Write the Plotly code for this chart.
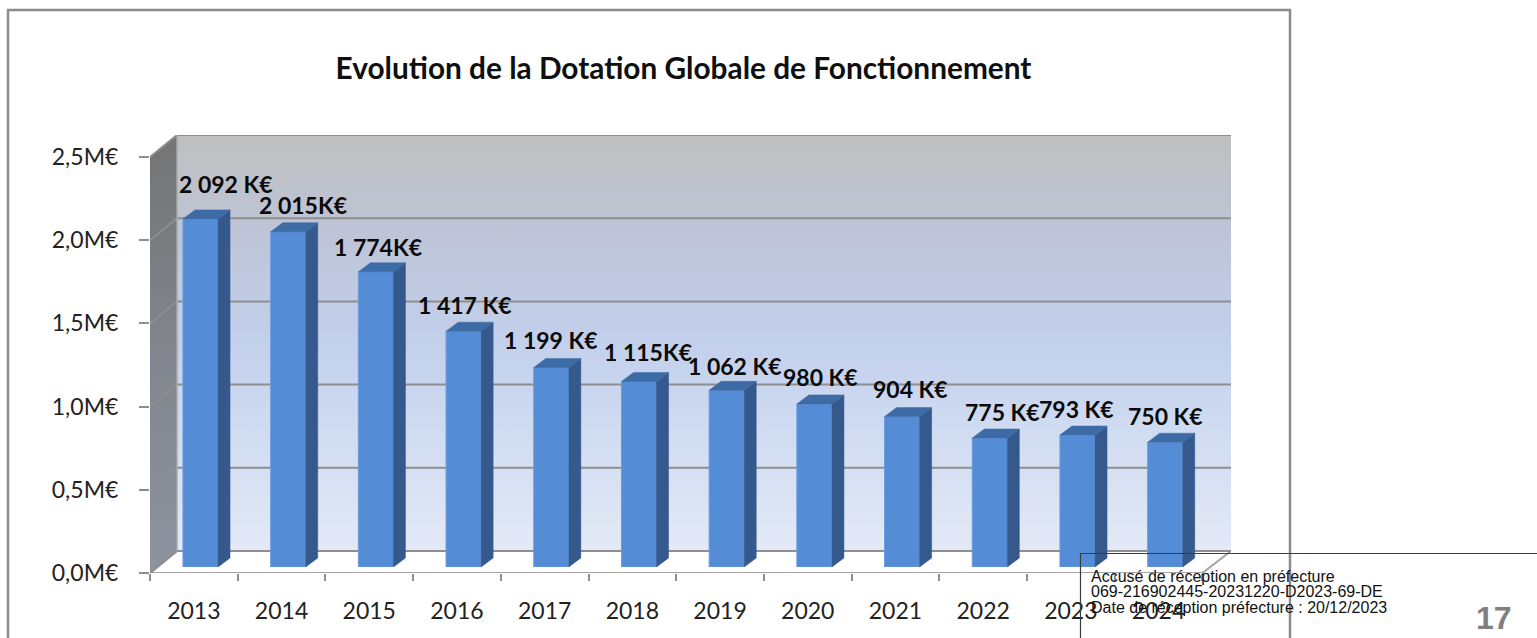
import plotly.graph_objects as go

W, H = 1537, 638

# ---- data ----
YEARS = [2013, 2014, 2015, 2016, 2017, 2018, 2019, 2020, 2021, 2022, 2023, 2024]
VALUES_KE = [2092, 2015, 1774, 1417, 1199, 1115, 1062, 980, 904, 775, 793, 750]
LABELS = ["2 092 K€", "2 015K€", "1 774K€", "1 417 K€", "1 199 K€", "1 115K€",
          "1 062 K€", "980 K€", "904 K€", "775 K€", "793 K€", "750 K€"]
Y_STEP = 0.5
Y_TICKS = [0.0, 0.5, 1.0, 1.5, 2.0, 2.5]
TITLE = "Evolution de la Dotation Globale de Fonctionnement"
STAMP = ["Accusé de réception en préfecture",
         "069-216902445-20231220-D2023-69-DE",
         "Date de réception préfecture : 20/12/2023"]
PAGE = "17"

# ---- label nudges in px (hand placed in the original) ----
LABEL_DX = [25.5, 15, 2, 1.4, 0, 9, 8, 6, 8, 13, -1.5, 0]
LABEL_DY = [35, 27, 25, 26, 27.5, 29.5, 24, 27, 27.6, 26, 26, 26]

# ---- scale ----
X_UNIT = 87.7     # px per year
Y_UNIT = 166.4    # px per M€
BAR_W = 0.4
DEPTH_X, DEPTH_Y = 12 / X_UNIT, 9 / Y_UNIT          # bar depth
WALL_X, WALL_Y = 27 / X_UNIT, 22 / Y_UNIT           # chart depth
FONT = "Lato, Carlito, sans-serif"
GRID = "#8e8e8e"

vals = [v / 1000 for v in VALUES_KE]
x0 = YEARS[0] - 0.5
x1 = YEARS[-1] + 0.5
xw = x0 + (1231 - 150) / X_UNIT
yw = 2.5 + WALL_Y

fig = go.Figure()

# floor
fig.add_trace(go.Scatter(
    x=[x0, x1, xw, x0 + WALL_X, x0], y=[0, 0, WALL_Y, WALL_Y, 0],
    mode="lines", fill="toself", fillcolor="#ffffff",
    line=dict(color="#a3a3a3", width=2), hoverinfo="skip"))
# back wall
fig.add_trace(go.Scatter(
    x=[x0 + WALL_X, xw, xw, x0 + WALL_X, x0 + WALL_X], y=[WALL_Y, WALL_Y, yw, yw, WALL_Y],
    mode="lines", fill="toself", line=dict(color="rgba(0,0,0,0)", width=0),
    fillgradient=dict(type="vertical", start=WALL_Y, stop=yw, colorscale=[
        [0, "#e3e9f6"], [0.3, "#cfdbf1"], [0.5, "#c3d0ec"], [0.75, "#bec5d8"], [1, "#bfbfbf"]]),
    hoverinfo="skip"))
# side wall
fig.add_trace(go.Scatter(
    x=[x0, x0 + WALL_X, x0 + WALL_X, x0, x0], y=[0, WALL_Y, yw, 2.5, 0],
    mode="lines", fill="toself", line=dict(color="rgba(0,0,0,0)", width=0),
    fillgradient=dict(type="vertical", start=0, stop=yw, colorscale=[
        [0, "#8d939f"], [0.5, "#82858d"], [1, "#747474"]]),
    hoverinfo="skip"))
# gridlines on both walls
gx, gy = [], []
for t in Y_TICKS:
    gx += [x0, x0 + WALL_X, xw, None]
    gy += [t, t + WALL_Y, t + WALL_Y, None]
fig.add_trace(go.Scatter(x=gx, y=gy, mode="lines", line=dict(color=GRID, width=2), hoverinfo="skip"))
# wall edges (left of back wall)
fig.add_trace(go.Scatter(x=[x0 + WALL_X, x0 + WALL_X], y=[WALL_Y, yw], mode="lines",
                         line=dict(color="#a9a9a9", width=1.5), hoverinfo="skip"))

# bars (separate subplot drawn over the walls)
fig.add_trace(go.Bar(x=YEARS, y=vals, width=BAR_W, xaxis="x2", yaxis="y2",
                     marker=dict(color="#558cd6", line=dict(color="#6a9be0", width=1)),
                     hoverinfo="skip"))
sx, sy, tx, ty = [], [], [], []
for yr, v in zip(YEARS, vals):
    r = yr + BAR_W / 2
    l = yr - BAR_W / 2
    sx += [r, r + DEPTH_X, r + DEPTH_X, r, r, None]
    sy += [0, DEPTH_Y, v + DEPTH_Y, v, 0, None]
    tx += [l, r, r + DEPTH_X, l + DEPTH_X, l, None]
    ty += [v, v, v + DEPTH_Y, v + DEPTH_Y, v, None]
fig.add_trace(go.Scatter(x=sx, y=sy, xaxis="x2", yaxis="y2", mode="lines", fill="toself",
                         fillcolor="#35598c", line=dict(color="#35598c", width=0.5), hoverinfo="skip"))
fig.add_trace(go.Scatter(x=tx, y=ty, xaxis="x2", yaxis="y2", mode="lines", fill="toself",
                         fillcolor="#3d6ba6", line=dict(color="#3d6ba6", width=0.5), hoverinfo="skip"))

annotations = [
    dict(x=yr, y=v, xref="x2", yref="y2", text=f"<b>{lab}</b>", showarrow=False,
         xanchor="center", yanchor="middle", xshift=dx, yshift=dy,
         font=dict(family=FONT, size=23, color="#0a0a0a"))
    for yr, v, lab, dx, dy in zip(YEARS, vals, LABELS, LABEL_DX, LABEL_DY)
]
for i, line in enumerate(STAMP):
    annotations.append(dict(
        x=1089 / W, y=1 - (576 + i * 15.5) / H, xref="paper", yref="paper", text=line,
        showarrow=False, xanchor="left", yanchor="middle", align="left",
        font=dict(family="Liberation Sans, Arial, sans-serif", size=16, color="#111111")))
annotations.append(dict(
    x=1494 / W, y=1 - 618 / H, xref="paper", yref="paper", text=f"<b>{PAGE}</b>", showarrow=False,
    xanchor="center", yanchor="middle",
    font=dict(family="Liberation Sans, Arial, sans-serif", size=32, color="#808080")))

shapes = [
    dict(type="rect", xref="paper", yref="paper", x0=8 / W, x1=1290 / W, y0=-0.05, y1=1 - 10 / H,
         line=dict(color="#8c8c8c", width=2.5), layer="above"),
    dict(type="rect", xref="paper", yref="paper", x0=1080.5 / W, x1=1.05, y0=-0.05, y1=1 - 553.5 / H,
         line=dict(color="#3c3c3c", width=1.2), layer="above"),
]

fig.update_layout(
    width=W, height=H, margin=dict(l=0, r=0, t=0, b=0, pad=0, autoexpand=False),
    paper_bgcolor="#ffffff", plot_bgcolor="rgba(0,0,0,0)", showlegend=False,
    separators=", ",
    title=dict(text=f"<b>{TITLE}</b>", x=683.5 / W, y=1 - 69 / H, xref="paper", yref="paper",
               xanchor="center", yanchor="middle",
               font=dict(family=FONT, size=29.8, color="#0f0f0f")),
    xaxis=dict(domain=[150 / W, 1231 / W], range=[x0, xw], showgrid=False, zeroline=False,
               showline=False, tickmode="array", tickvals=YEARS, ticktext=[str(y) for y in YEARS],
               ticks="", ticklabelstandoff=22,
               tickfont=dict(family=FONT, size=23, color="#222222"),
               minor=dict(tickmode="array", tickvals=[y - 0.5 for y in YEARS] + [x1],
                          ticks="outside", ticklen=7, tickwidth=2, tickcolor=GRID, showgrid=False)),
    yaxis=dict(domain=[1 - 573 / H, 1 - 135 / H], range=[0, yw], showgrid=False, zeroline=False,
               showline=False, tickmode="linear", tick0=Y_TICKS[0], dtick=Y_STEP,
               tickformat=".1f", ticksuffix="M€",
               ticks="outside", ticklen=10, tickwidth=2, tickcolor=GRID, ticklabelstandoff=16,
               tickfont=dict(family=FONT, size=23, color="#222222")),
    xaxis2=dict(domain=[(150 + 6.65) / W, (150 + 6.65 + 12 * X_UNIT) / W], range=[x0, x1],
                anchor="y2", visible=False),
    yaxis2=dict(domain=[1 - 567 / H, 1 - 135 / H], range=[0, (567 - 135) / Y_UNIT],
                anchor="x2", visible=False),
    annotations=annotations, shapes=shapes,
)

fig.write_html("out.html", config={"displayModeBar": False},
               post_script="document.body.style.margin='0';document.body.style.overflow='hidden';")
